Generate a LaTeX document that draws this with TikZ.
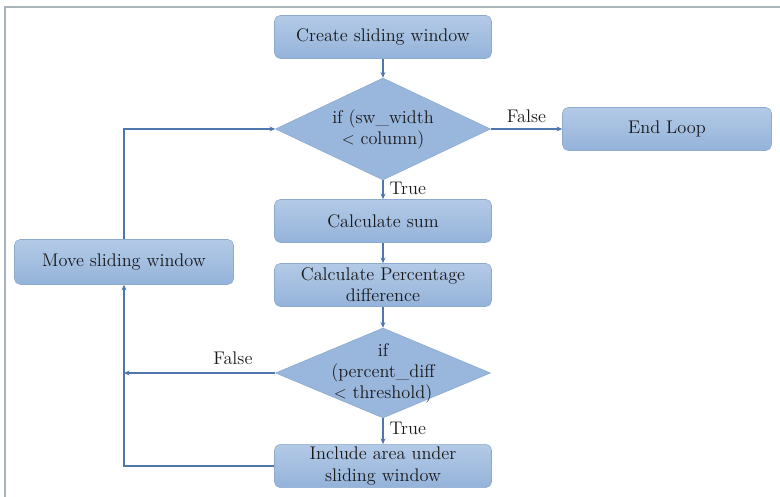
\documentclass[tikz,border=0pt]{standalone}
\usepackage{tikz}
\usetikzlibrary{arrows.meta,shapes.geometric,positioning}

\definecolor{boxtop}{HTML}{B3CAE6}
\definecolor{boxbot}{HTML}{94B3DA}
\definecolor{boxedge}{HTML}{8CA9D0}
\definecolor{flowline}{HTML}{4F77AE}
\definecolor{framegray}{HTML}{A8B3BA}

\tikzset{
  procbox/.style={rectangle, rounded corners=4pt, top color=boxtop, bottom color=boxbot,
    draw=boxedge, line width=0.4pt, minimum width=5.425cm, minimum height=1.075cm,
    align=center, inner sep=2pt, font=\fontsize{13}{15}\selectfont, text=black!90},
  decision/.style={diamond, fill=boxbot!85!boxtop, draw=boxedge, line width=0.4pt,
    minimum width=5.375cm, minimum height=2.55cm, aspect=2.1, inner sep=-8pt,
    align=center, font=\fontsize{13}{15}\selectfont, text=black!90},
  flow/.style={draw=flowline, line width=0.8pt, -{Stealth[length=4pt,width=3.5pt]}},
  tag/.style={font=\fontsize{13}{15}\selectfont, text=black!90}
}

\begin{document}
\begin{tikzpicture}

\useasboundingbox (0,0) rectangle (19.5,12.425);

% Frame
\draw[framegray, line width=1.4pt] (0.125,0) -- (0.125,12.25) -- (19.5,12.25);

% Main column
\node[procbox]  (create)  at (9.575,11.5)  {Create sliding window};
\node[decision] (dec1)    at (9.575,9.2)   {if (sw\_width\\ $<$ column)};
\node[procbox]  (sum)     at (9.575,6.9)   {Calculate sum};
\node[procbox]  (perc)    at (9.575,5.3)   {Calculate Percentage\\ difference};
\node[decision, minimum height=2.25cm] (dec2) at (9.575,3.1) {if\\ (percent\_diff\\ $<$ threshold)};
\node[procbox]  (include) at (9.575,0.775) {Include area under\\ sliding window};

% Side boxes
\node[procbox, minimum width=5.225cm] (endloop) at (16.675,9.2) {End Loop};
\node[procbox, minimum width=5.475cm, minimum height=1.125cm] (move) at (3.1,5.875) {Move sliding window};

% Junctions on the return line
\coordinate (jfalse) at (move |- dec2.west);
\coordinate (jinc)   at (move |- include.west);
\coordinate (jtop)   at (move |- dec1.west);

% Connectors
\draw[flow] (create) -- (dec1);
\draw[flow] (dec1) -- node[tag, right, pos=0.45, xshift=1pt] {True} (sum);
\draw[flow] (sum) -- (perc);
\draw[flow] (perc) -- (dec2);
\draw[flow] (dec2) -- node[tag, right, pos=0.4, xshift=1pt] {True} (include);
\draw[flow] (dec1.east) -- node[tag, above, pos=0.5, yshift=1pt] {False} (endloop.west);
\draw[flow] (dec2.west) -- node[tag, above, pos=0.28, yshift=2pt] {False} (jfalse);
\draw[flow] (include.west) -- (jinc) -- (move.south);
\draw[flow] (move.north) -- (jtop) -- (dec1.west);

\end{tikzpicture}
\end{document}
